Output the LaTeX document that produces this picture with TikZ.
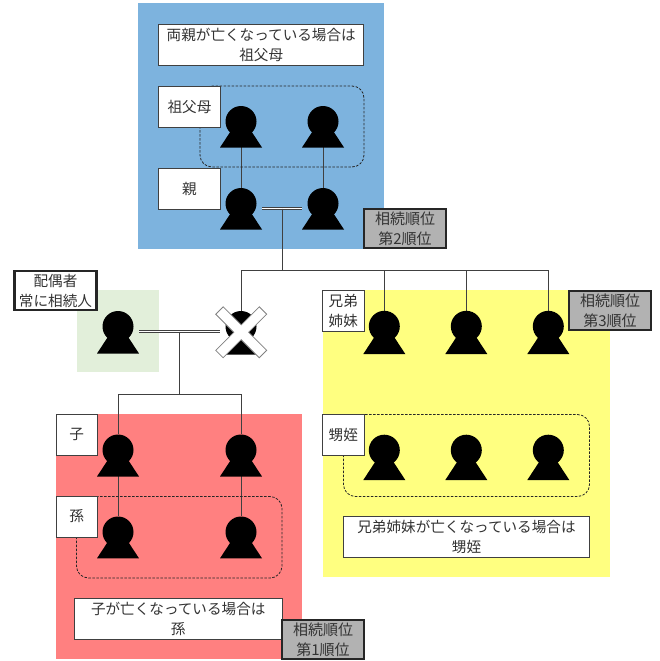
\documentclass[tikz,border=0pt]{standalone}
\usepackage{fontspec}
\setmainfont{Noto Sans CJK JP}
\pgfdeclarelayer{panels}
\pgfdeclarelayer{links}
\pgfsetlayers{panels,links,main}
\definecolor{lineC}{HTML}{404040}
\definecolor{textC}{HTML}{333333}
\definecolor{blueP}{HTML}{7DB3DE}
\definecolor{greenP}{HTML}{E2EFDA}
\definecolor{yellowP}{HTML}{FFFF80}
\definecolor{redP}{HTML}{FF8080}
\definecolor{grayB}{HTML}{B2B2B2}
\tikzset{
  txtbox/.style={draw=lineC,fill=white,line width=.8pt,inner sep=0pt,align=center,text=textC,font=\fontsize{14.6}{20}\selectfont},
  rankbox/.style={draw=black!85,fill=grayB,line width=2.4pt,inner sep=0pt,align=center,text=textC,minimum width=82pt,minimum height=39.5pt,font=\fontsize{15}{20}\selectfont},
  spousebox/.style={rankbox,fill=white,font=\fontsize{14.6}{20}\selectfont},
  group/.style={draw=black!85,line width=.8pt,dash pattern=on 2.5pt off 1.5pt,rounded corners=12pt},
  head/.style={circle,fill=black,inner sep=0pt,minimum size=31pt},
  link/.style={draw=lineC,line width=.9pt},
  marriage/.style={draw=lineC,line width=.75pt,double=white,double distance=1.5pt,shorten <=21pt,shorten >=21pt},
  crossmark/.style={draw=gray,fill=white,line width=.8pt,line join=miter},
}
% name, x, y, offset of the base below the head centre
\newcommand{\personfig}[4]{%
  \node[head] (#1) at (#2,#3) {};
  \fill (#2-21,#3+#4) -- (#2+21,#3+#4) -- (#2,#3+#4-32) -- cycle;
}
\begin{document}
\begin{tikzpicture}[x=1pt,y=-1pt]
\useasboundingbox (0,0) rectangle (660,661);
% panels
\begin{pgfonlayer}{panels}
\fill[blueP] (138,3) rectangle (384,249);
\fill[greenP] (76.5,290) rectangle (158.5,372);
\fill[yellowP] (322.5,290) rectangle (609.5,577);
\fill[redP] (56,414) rectangle (302,659);
\end{pgfonlayer}
% persons
\personfig{gp1}{241}{121.5}{26}
\personfig{gp2}{323}{121.5}{26}
\personfig{pa1}{241}{203.5}{26}
\personfig{pa2}{323}{203.5}{26}
\personfig{spouse}{118}{326.5}{27}
\personfig{dec}{241}{326.5}{28}
\personfig{sib1}{384.3}{326.3}{27.7}
\personfig{sib2}{466.3}{326.3}{27.7}
\personfig{sib3}{548.3}{326.3}{27.7}
\personfig{nep1}{384.3}{450.2}{29.8}
\personfig{nep2}{466.3}{450.2}{29.8}
\personfig{nep3}{548.3}{450.2}{29.8}
\personfig{ch1}{118}{450}{26.5}
\personfig{ch2}{241}{450}{26.5}
\personfig{gc1}{118}{532}{26.3}
\personfig{gc2}{241}{532}{26.3}
% dashed groups
\draw[group] (200,86) rectangle (364,167);
\draw[group] (343.5,414.5) rectangle (589.5,496.5);
\draw[group] (76.5,496.5) rectangle (282,578);
% text boxes
\node[txtbox,minimum width=205pt,minimum height=41pt] (tGp) at (261.25,44.5) {両親が亡くなっている場合は\\祖父母};
\node[txtbox,minimum width=62pt,minimum height=41pt] (lGp) at (189.5,106.5) {祖父母};
\node[txtbox,minimum width=62pt,minimum height=41pt] (lPa) at (189.5,188.5) {親};
\node[txtbox,minimum width=41.5pt,minimum height=41pt] (lSib) at (343.25,311) {兄弟\\姉妹};
\node[txtbox,minimum width=41.5pt,minimum height=41pt] (lNep) at (343.25,434.5) {甥姪};
\node[txtbox,minimum width=246pt,minimum height=41pt] (tNep) at (466.5,537) {兄弟姉妹が亡くなっている場合は\\甥姪};
\node[txtbox,minimum width=41.5pt,minimum height=41pt] (lCh) at (76.75,434.5) {子};
\node[txtbox,minimum width=41.5pt,minimum height=41pt] (lGc) at (76.75,516.5) {孫};
\node[txtbox,minimum width=207.5pt,minimum height=41pt] (tGc) at (178.25,618.5) {子が亡くなっている場合は\\孫};
% rank boxes
\node[rankbox] (r2) at (405,228.5) {相続順位\\第2順位};
\node[rankbox] (r3) at (610,310.5) {相続順位\\第3順位};
\node[rankbox] (r1) at (323,639.5) {相続順位\\第1順位};
\node[spousebox] (rS) at (55.5,290.5) {配偶者\\常に相続人};
% cross
\draw[crossmark,shift={(241.2,332.3)},rotate=45]
  (-30.8,-5.25) -- (-5.25,-5.25) -- (-5.25,-30.8) -- (5.25,-30.8) -- (5.25,-5.25) -- (30.8,-5.25)
  -- (30.8,5.25) -- (5.25,5.25) -- (5.25,30.8) -- (-5.25,30.8) -- (-5.25,5.25) -- (-30.8,5.25) -- cycle;
% connectors
\begin{pgfonlayer}{links}
\coordinate (m1) at (282,208.5);
\coordinate (m2) at (179,331.5);
\coordinate (bus1) at (282,270);
\coordinate (bus2) at (179,394);
\draw[link] (gp1) -- (pa1);
\draw[link] (gp2) -- (pa2);
\draw[marriage] ([yshift=-5pt]pa1.center) -- ([yshift=-5pt]pa2.center);
\draw[link] (m1) -- (bus1);
\draw[link] (dec) |- (bus1);
\draw[link] (bus1) -| (sib3);
\draw[link] (sib1) -- (sib1 |- bus1);
\draw[link] (sib2) -- (sib2 |- bus1);
\draw[marriage] ([yshift=-5pt]spouse.center) -- ([yshift=-5pt]dec.center);
\draw[link] (m2) -- (bus2);
\draw[link] (ch1) |- (bus2);
\draw[link] (ch2) |- (bus2);
\draw[link] (ch1) -- (gc1);
\draw[link] (ch2) -- (gc2);
\end{pgfonlayer}
\end{tikzpicture}
\end{document}
